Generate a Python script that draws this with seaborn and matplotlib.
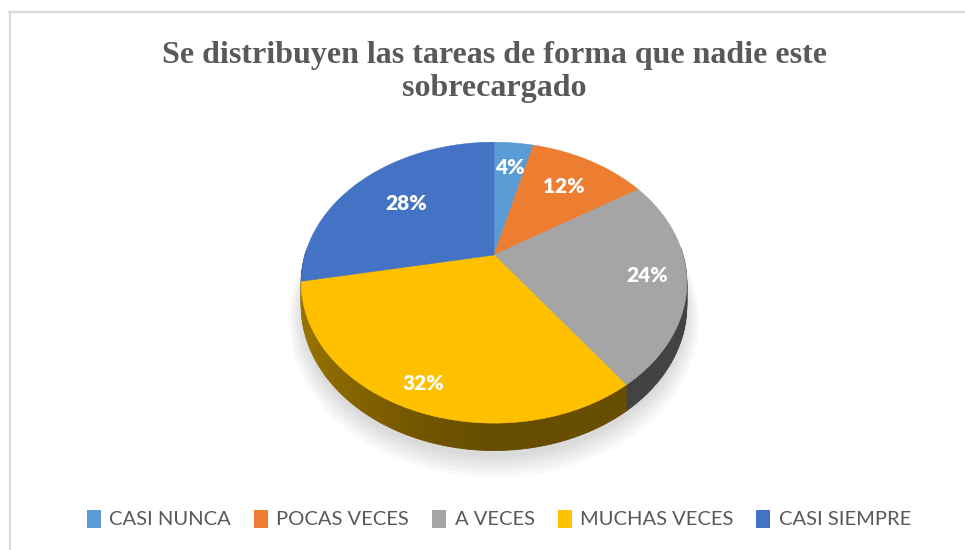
import numpy as np
import matplotlib
matplotlib.use('Agg')
import matplotlib.pyplot as plt
from matplotlib.patches import Polygon, Rectangle
from matplotlib.lines import Line2D
import seaborn as sns

# data
categories = ['CASI NUNCA', 'POCAS VECES', 'A VECES', 'MUCHAS VECES', 'CASI SIEMPRE']
percentages = [4, 12, 24, 32, 28]
title = 'Se distribuyen las tareas de forma que nadie este\nsobrecargado'

# style
palette = sns.color_palette(['#5B9BD5', '#ED7D31', '#A5A5A5', '#FFC000', '#4472C4'])
label_radius = [0.75, 0.70, 0.80, 0.86, 0.65]
text_gray = '#595959'

# 3d pie geometry (pixels)
CX, CY = 494, 255
RX, RY = 189, 135
PERSP = 0.197
DEPTH = 22


def project(u, v, z=0.0):
    """map a point of the unit disc (v>0 = back) to screen, z=1 is the bottom face"""
    w = 1 + PERSP * v
    return CX + RX * u / w, CY - RY * v / w + DEPTH * z / w


def shade(color, u):
    f = 0.40 + 0.22 * np.clip(-u, 0, 1) ** 1.3
    return tuple(c * f for c in color)


sns.set_theme(style='white')
fig = plt.figure(figsize=(9.65, 5.5), dpi=100)
ax = fig.add_axes([0, 0, 1, 1])
ax.set_xlim(0, 965)
ax.set_ylim(550, 0)
ax.axis('off')

# chart frame
ax.add_line(Line2D([9, 965], [11.5, 11.5], color='#D9D9D9', lw=1.6))
ax.add_line(Line2D([9.5, 9.5], [11.5, 550], color='#D9D9D9', lw=1.6))

fracs = np.array(percentages) / sum(percentages)
edges = np.concatenate([[0], np.cumsum(fracs)]) * 2 * np.pi

# soft shadow under the pie
t_all = np.linspace(0, 2 * np.pi, 200)
for k in range(6):
    s = 1.0 + 0.012 * k
    pts = [project(s * np.sin(t), s * np.cos(t), 1.25 + 0.05 * k) for t in t_all]
    ax.add_patch(Polygon(pts, closed=True, fc='#000000', ec='none', alpha=0.025))

# side walls, back to front
quads = []
for i, col in enumerate(palette):
    ts = np.linspace(edges[i], edges[i + 1], max(4, int(fracs[i] * 300)))
    for a, b in zip(ts[:-1], ts[1:]):
        m = (a + b) / 2
        if np.cos(m) > 0.05:
            continue
        pts = [project(np.sin(a), np.cos(a)), project(np.sin(b), np.cos(b)),
               project(np.sin(b), np.cos(b), 1), project(np.sin(a), np.cos(a), 1)]
        quads.append((np.cos(m), pts, shade(col, np.sin(m))))
for _, pts, c in sorted(quads, key=lambda q: -q[0]):
    ax.add_patch(Polygon(pts, closed=True, fc=c, ec=c, lw=0.6))

# top face
for i, col in enumerate(palette):
    ts = np.linspace(edges[i], edges[i + 1], max(4, int(fracs[i] * 300)))
    pts = [project(0, 0)] + [project(np.sin(t), np.cos(t)) for t in ts]
    ax.add_patch(Polygon(pts, closed=True, fc=col, ec=col, lw=0.4))

# data labels
for i, p in enumerate(percentages):
    m = (edges[i] + edges[i + 1]) / 2
    r = label_radius[i]
    x, y = project(r * np.sin(m), r * np.cos(m))
    ax.text(x, y, f'{p}%', color='white', fontsize=15, fontweight='heavy',
            family=['Lato', 'DejaVu Sans'], ha='center', va='center')

# title
ax.text(494, 72, title, ha='center', va='center', fontsize=23, fontweight='bold',
        family=['Liberation Serif', 'DejaVu Serif'], color=text_gray, linespacing=1.2)

# legend
handles = [Rectangle((0, 0), 1, 1, fc=c, ec='none') for c in palette]
leg = fig.legend(handles, categories, loc='center', bbox_to_anchor=(499 / 965, 1 - 519 / 550),
                 ncol=5, frameon=False, handlelength=0.7, handleheight=1.0,
                 handletextpad=0.4, columnspacing=1.15, prop={'family': 'Lato', 'size': 14.5})
for t in leg.get_texts():
    t.set_color(text_gray)

fig.savefig('out.png', dpi=100)
